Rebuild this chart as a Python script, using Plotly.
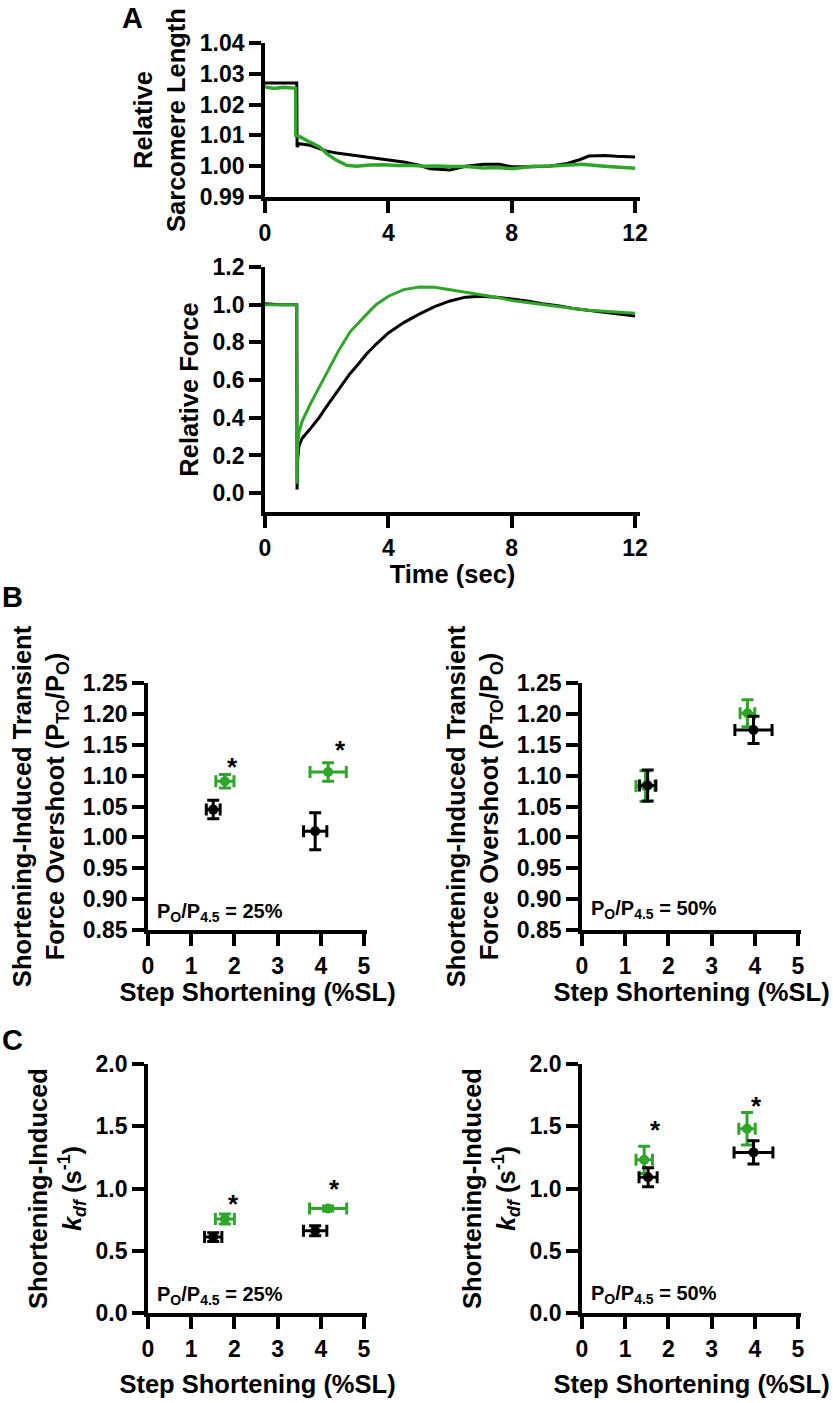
import plotly.graph_objects as go

W, H = 833, 1403

# ---------------- Panel A data ----------------
sl_black_t = [0, 0.5, 1.0, 1.03, 1.04, 1.1, 1.46, 1.78, 2.0, 2.32, 2.76, 3.3, 3.84, 4.49, 5.0, 5.35, 6.0,
              6.5, 7.1, 7.6, 8.0, 8.7, 9.25, 9.8, 10.2, 10.5, 11.0, 11.4, 12.0]
sl_black_v = [1.0270, 1.0270, 1.0270, 1.0270, 1.0062, 1.0073, 1.0068, 1.0058, 1.0049, 1.0043, 1.0037, 1.0030,
              1.0021, 1.0014, 1.0003, 0.9992, 0.9988, 1.0000, 1.0006, 1.0006, 0.9998, 0.9998, 1.0001, 1.0009,
              1.0021, 1.0033, 1.0035, 1.0032, 1.0030]
sl_green_t = [0, 0.3, 0.6, 0.995, 1.0, 1.14, 1.46, 1.78, 2.0, 2.32, 2.65, 2.97, 3.4, 3.84, 4.3, 4.7, 5.2,
              5.57, 6.0, 6.54, 7.08, 7.5, 8.0, 8.7, 9.25, 9.8, 10.3, 11.0, 11.4, 12.0]
sl_green_v = [1.0257, 1.0252, 1.0256, 1.0253, 1.0100, 1.0095, 1.0078, 1.0062, 1.0041, 1.0019, 1.0003, 1.0000,
              1.0004, 1.0005, 1.0002, 1.0003, 1.0000, 1.0001, 0.9999, 0.9999, 0.9994, 0.9996, 0.9992, 1.0000,
              1.0001, 1.0003, 1.0006, 1.0000, 0.9998, 0.9993]

force_black_t = [0, 0.5, 1.0, 1.03, 1.04, 1.06, 1.1, 1.2, 1.46, 1.75, 2.0, 2.4, 2.76, 3.0, 3.3, 3.6, 4.0, 4.5,
                 5.0, 5.5, 6.0, 6.5, 7.0, 7.5, 8.0, 8.5, 9.0, 9.5, 10.0, 10.5, 11.0, 11.5, 12.0]
force_black_v = [1.005, 1.0, 1.0, 1.0, 0.02, 0.18, 0.25, 0.29, 0.34, 0.40, 0.46, 0.55, 0.635, 0.68, 0.74, 0.79,
                 0.85, 0.905, 0.95, 0.99, 1.02, 1.04, 1.045, 1.04, 1.03, 1.02, 1.005, 0.995, 0.98, 0.97, 0.96,
                 0.95, 0.94]
force_green_t = [0, 0.5, 1.0, 1.03, 1.04, 1.06, 1.1, 1.2, 1.46, 1.75, 2.0, 2.4, 2.76, 3.0, 3.3, 3.6, 4.0, 4.5,
                 5.0, 5.5, 6.0, 6.5, 7.0, 7.5, 8.0, 8.5, 9.0, 9.5, 10.0, 10.5, 11.0, 11.5, 12.0]
force_green_v = [1.0, 1.0, 1.0, 1.0, 0.05, 0.26, 0.32, 0.38, 0.47, 0.56, 0.644, 0.76, 0.856, 0.90, 0.95, 1.0,
                 1.045, 1.08, 1.094, 1.093, 1.08, 1.065, 1.055, 1.04, 1.022, 1.01, 1.0, 0.99, 0.98, 0.97,
                 0.965, 0.96, 0.955]

# ---------------- Panel B data (force overshoot) ----------------
b25_black_x = [1.51, 3.87]; b25_black_xerr = [0.16, 0.27]
b25_black_y = [1.045, 1.010]; b25_black_yerr = [0.015, 0.030]
b25_green_x = [1.78, 4.17]; b25_green_xerr = [0.21, 0.42]
b25_green_y = [1.091, 1.106]; b25_green_yerr = [0.011, 0.015]
b50_black_x = [1.52, 3.97]; b50_black_xerr = [0.19, 0.43]
b50_black_y = [1.084, 1.174]; b50_black_yerr = [0.025, 0.022]
b50_green_x = [1.47, 3.83]; b50_green_xerr = [0.22, 0.17]
b50_green_y = [1.083, 1.201]; b50_green_yerr = [0.025, 0.022]

# ---------------- Panel C data (k_df) ----------------
c25_black_x = [1.51, 3.87]; c25_black_xerr = [0.20, 0.27]
c25_black_y = [0.61, 0.66]; c25_black_yerr = [0.035, 0.04]
c25_green_x = [1.78, 4.17]; c25_green_xerr = [0.22, 0.43]
c25_green_y = [0.755, 0.84]; c25_green_yerr = [0.04, 0.02]
c50_black_x = [1.53, 3.97]; c50_black_xerr = [0.21, 0.45]
c50_black_y = [1.09, 1.29]; c50_black_yerr = [0.076, 0.094]
c50_green_x = [1.44, 3.82]; c50_green_xerr = [0.19, 0.19]
c50_green_y = [1.23, 1.48]; c50_green_yerr = [0.11, 0.13]

# significance flags on green points
b25_sig = [True, True]
b50_sig = [False, False]
c25_sig = [True, True]
c50_sig = [True, True]

y_ticks_sl = [0.99, 1.00, 1.01, 1.02, 1.03, 1.04]
y_ticks_force = [0.0, 0.2, 0.4, 0.6, 0.8, 1.0, 1.2]
x_ticks_time = [0, 4, 8, 12]
y_ticks_b = [0.85, 0.90, 0.95, 1.00, 1.05, 1.10, 1.15, 1.20, 1.25]
y_ticks_c = [0.0, 0.5, 1.0, 1.5, 2.0]
x_ticks_step = [0, 1, 2, 3, 4, 5]

# ---------------- styles ----------------
FONT = "Liberation Sans, Arial, Helvetica, sans-serif"
GREEN = "#2fa52a"
BLACK = "#000000"
# star pixel offsets from their green point (dx right, dy down)
star_off_b25 = [(8, -20), (12, -28)]
star_off_b50 = [(0, 0), (0, 0)]
star_off_c25 = [(9, -21), (6, -25)]
star_off_c50 = [(11, -36), (9, -29)]


def fx(p):
    return p / W


def fy(p):
    return 1 - p / H


fig = go.Figure()

# Panel A traces
fig.add_trace(go.Scatter(x=sl_black_t, y=sl_black_v, mode="lines", line=dict(color=BLACK, width=3),
                         xaxis="x", yaxis="y", showlegend=False))
fig.add_trace(go.Scatter(x=sl_green_t, y=sl_green_v, mode="lines", line=dict(color=GREEN, width=3.5),
                         xaxis="x", yaxis="y", showlegend=False))
fig.add_trace(go.Scatter(x=force_black_t, y=force_black_v, mode="lines", line=dict(color=BLACK, width=3),
                         xaxis="x2", yaxis="y2", showlegend=False))
fig.add_trace(go.Scatter(x=force_green_t, y=force_green_v, mode="lines", line=dict(color=GREEN, width=3),
                         xaxis="x2", yaxis="y2", showlegend=False))


def add_points(x, xerr, y, yerr, color, xa, ya):
    fig.add_trace(go.Scatter(
        x=x, y=y, mode="markers", xaxis=xa, yaxis=ya, showlegend=False,
        marker=dict(color=color, size=10, symbol="circle"),
        error_x=dict(type="data", array=xerr, color=color, thickness=3, width=6),
        error_y=dict(type="data", array=yerr, color=color, thickness=3, width=6),
    ))


add_points(b25_green_x, b25_green_xerr, b25_green_y, b25_green_yerr, GREEN, "x3", "y3")
add_points(b25_black_x, b25_black_xerr, b25_black_y, b25_black_yerr, BLACK, "x3", "y3")
add_points(b50_green_x, b50_green_xerr, b50_green_y, b50_green_yerr, GREEN, "x4", "y4")
add_points(b50_black_x, b50_black_xerr, b50_black_y, b50_black_yerr, BLACK, "x4", "y4")
add_points(c25_green_x, c25_green_xerr, c25_green_y, c25_green_yerr, GREEN, "x5", "y5")
add_points(c25_black_x, c25_black_xerr, c25_black_y, c25_black_yerr, BLACK, "x5", "y5")
add_points(c50_green_x, c50_green_xerr, c50_green_y, c50_green_yerr, GREEN, "x6", "y6")
add_points(c50_black_x, c50_black_xerr, c50_black_y, c50_black_yerr, BLACK, "x6", "y6")

tickfont = dict(family=FONT, size=23, color="black", weight="bold")
titlefont = dict(family=FONT, size=25.5, color="black", weight="bold")


def axis(domain, rng, tickvals, fmt, anchor, title=None, standoff=None):
    d = dict(domain=domain, range=rng, tickvals=tickvals, tickformat=fmt, anchor=anchor,
             showline=True, linecolor="black", linewidth=3.8, mirror=False,
             ticks="outside", ticklen=12, tickwidth=3.8, tickcolor="black",
             showgrid=False, zeroline=False, tickfont=tickfont, fixedrange=True,
             automargin=False)
    if title is not None:
        d["title"] = dict(text=title, font=titlefont, standoff=standoff)
    return d


xA = [fx(265), fx(640)]
yA1 = [fy(197), fy(43)]
yA2 = [fy(512), fy(267)]
xL = [fx(148), fx(367)]
xR = [fx(582), fx(801)]
yB = [fy(930), fy(683)]
yC = [fy(1313), fy(1064)]

b_title = "Shortening-Induced Transient<br>Force Overshoot (P<sub>TO</sub>/P<sub>O</sub>)"
c_title = "Shortening-Induced<br><i>k</i><sub><i>df</i></sub> (s<sup>-1</sup>)"
step_title = "Step Shortening (%SL)"

fig.update_layout(
    width=W, height=H, margin=dict(l=0, r=0, t=0, b=0),
    paper_bgcolor="white", plot_bgcolor="white",
    font=dict(family=FONT, color="black"),
    xaxis=axis(xA, [0, 12.16], x_ticks_time, "d", "y"),
    yaxis=axis(yA1, [0.99, 1.04], y_ticks_sl, ".2f", "x", "Relative<br>Sarcomere Length", 8),
    xaxis2=axis(xA, [0, 12.16], x_ticks_time, "d", "y2", "Time (sec)", 7),
    yaxis2=axis(yA2, [-0.1, 1.2], y_ticks_force, ".1f", "x2", "Relative Force", 8),
    xaxis3=axis(xL, [0, 5.07], x_ticks_step, "d", "y3", step_title, 6),
    yaxis3=axis(yB, [0.85, 1.25], y_ticks_b, ".2f", "x3", b_title, 12),
    xaxis4=axis(xR, [0, 5.07], x_ticks_step, "d", "y4", step_title, 6),
    yaxis4=axis(yB, [0.85, 1.25], y_ticks_b, ".2f", "x4", b_title, 12),
    xaxis5=axis(xL, [0, 5.07], x_ticks_step, "d", "y5", step_title, 16),
    yaxis5=axis(yC, [0, 2.0], y_ticks_c, ".1f", "x5", c_title, 8),
    xaxis6=axis(xR, [0, 5.07], x_ticks_step, "d", "y6", step_title, 16),
    yaxis6=axis(yC, [0, 2.0], y_ticks_c, ".1f", "x6", c_title, 8),
)

annotations = []
# panel letters
for letter, px, py in [("A", 132, 18), ("B", 12, 597), ("C", 12, 1040)]:
    annotations.append(dict(text=letter, x=fx(px), y=fy(py), xref="paper", yref="paper",
                            showarrow=False, xanchor="center", yanchor="middle",
                            font=dict(family=FONT, size=29, color="black", weight="bold")))
# condition labels
for txt, px, py in [("P<sub>O</sub>/P<sub>4.5</sub> = 25%", 155, 912),
                    ("P<sub>O</sub>/P<sub>4.5</sub> = 50%", 589, 910),
                    ("P<sub>O</sub>/P<sub>4.5</sub> = 25%", 155, 1295),
                    ("P<sub>O</sub>/P<sub>4.5</sub> = 50%", 589, 1294)]:
    annotations.append(dict(text=txt, x=fx(px), y=fy(py), xref="paper", yref="paper",
                            showarrow=False, xanchor="left", yanchor="middle",
                            font=dict(family=FONT, size=20, color="black", weight="bold")))
# significance stars anchored to green points
for xs, ys, sig, offs, xa, ya in [(b25_green_x, b25_green_y, b25_sig, star_off_b25, "x3", "y3"),
                                  (b50_green_x, b50_green_y, b50_sig, star_off_b50, "x4", "y4"),
                                  (c25_green_x, c25_green_y, c25_sig, star_off_c25, "x5", "y5"),
                                  (c50_green_x, c50_green_y, c50_sig, star_off_c50, "x6", "y6")]:
    for xv, yv, s, (dx, dy) in zip(xs, ys, sig, offs):
        if s:
            annotations.append(dict(text="*", x=xv, y=yv, xref=xa, yref=ya, showarrow=False,
                                    xanchor="center", yanchor="middle", xshift=dx, yshift=-dy - 6,
                                    font=dict(family=FONT, size=26, color="black", weight="bold")))
fig.update_layout(annotations=annotations)

fig.write_html(
    "out.html",
    config={"displayModeBar": False},
    post_script="document.body.style.margin='0';document.body.style.overflow='hidden';",
)
